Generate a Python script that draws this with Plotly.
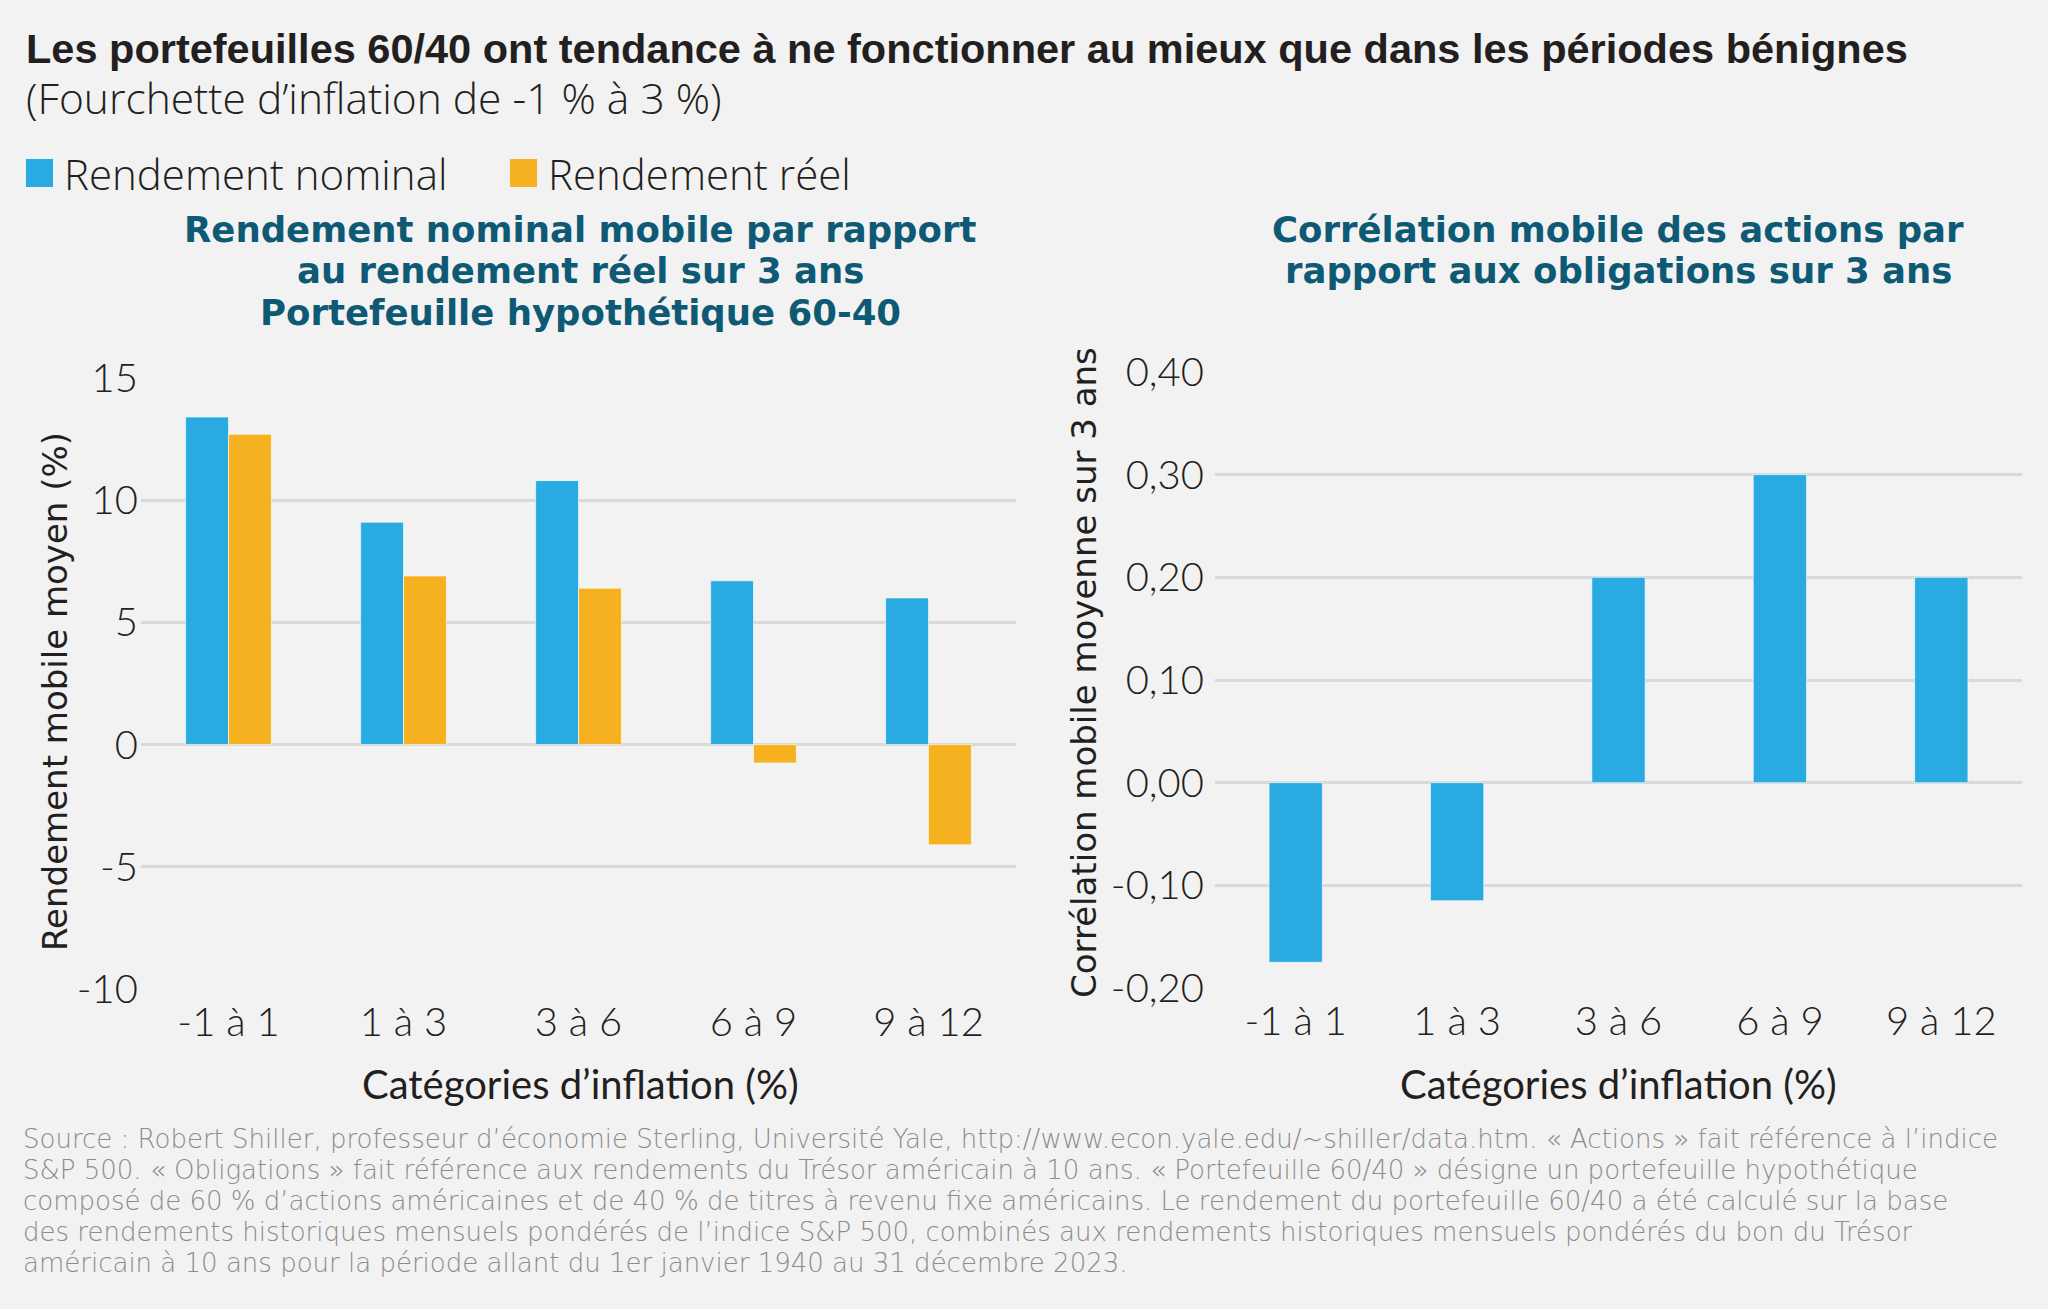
import plotly.graph_objects as go

# ---------------- data ----------------
categories = ["-1 à 1", "1 à 3", "3 à 6", "6 à 9", "9 à 12"]
nominal_return = [13.4, 9.1, 10.8, 6.7, 6.0]
real_return = [12.7, 6.9, 6.4, -0.75, -4.1]
stock_bond_corr = [-0.175, -0.115, 0.20, 0.30, 0.20]

left_tickvals = [15, 10, 5, 0, -5, -10]
left_ticktext = ["15", "10", "5", "0", "-5", "-10"]
right_tickvals = [0.40, 0.30, 0.20, 0.10, 0.00, -0.10, -0.20]
right_ticktext = ["0,40", "0,30", "0,20", "0,10", "0,00", "-0,10", "-0,20"]

series_names = ["Rendement nominal", "Rendement réel"]

title_text = "Les portefeuilles 60/40 ont tendance à ne fonctionner au mieux que dans les périodes bénignes"
subtitle_text = "(Fourchette d’inflation de -1 % à 3 %)"
left_title_lines = ["Rendement nominal mobile par rapport",
                    "au rendement réel sur 3 ans",
                    "Portefeuille hypothétique 60-40"]
right_title_lines = ["Corrélation mobile des actions par",
                     "rapport aux obligations sur 3 ans"]
x_title = "Catégories d’inflation (%)"
left_y_title = "Rendement mobile moyen (%)"
right_y_title = "Corrélation mobile moyenne sur 3 ans"
footnote_lines = [
    "Source : Robert Shiller, professeur d’économie Sterling, Université Yale, http://www.econ.yale.edu/~shiller/data.htm. « Actions » fait référence à l’indice",
    "S&amp;P 500. « Obligations » fait référence aux rendements du Trésor américain à 10 ans. « Portefeuille 60/40 » désigne un portefeuille hypothétique",
    "composé de 60 % d’actions américaines et de 40 % de titres à revenu fixe américains. Le rendement du portefeuille 60/40 a été calculé sur la base",
    "des rendements historiques mensuels pondérés de l’indice S&amp;P 500, combinés aux rendements historiques mensuels pondérés du bon du Trésor",
    "américain à 10 ans pour la période allant du 1er janvier 1940 au 31 décembre 2023.",
]

# ---------------- style ----------------
W, H = 2048, 1309
BLUE = "#29ABE2"
ORANGE = "#F5B120"
TEAL = "#0E5A75"
DARK = "#231F20"
GRID = "#D9D9D9"
BG = "#F2F2F2"
GREY = "#8C8C8C"
TICK_FONT = "Lato"
HEAD_FONT = "Liberation Sans"
LIGHT_FONT = "Open Sans"


def px_x(x):
    return x / W


def px_y(y):
    return 1 - y / H


fig = go.Figure()
bar_line = dict(color="rgba(255,255,255,0.6)", width=1)
fig.add_trace(go.Bar(x=categories, y=nominal_return, name=series_names[0],
                     marker=dict(color=BLUE, line=bar_line), xaxis="x", yaxis="y",
                     showlegend=False))
fig.add_trace(go.Bar(x=categories, y=real_return, name=series_names[1],
                     marker=dict(color=ORANGE, line=bar_line), xaxis="x", yaxis="y",
                     showlegend=False))
fig.add_trace(go.Bar(x=categories, y=stock_bond_corr, name="Corrélation",
                     marker=dict(color=BLUE, line=bar_line), xaxis="x2", yaxis="y2",
                     width=0.33, showlegend=False))

tick_font = dict(family=TICK_FONT, size=40, color=DARK, weight=300)
common_axis = dict(automargin=False, showline=False, ticks="", tickfont=tick_font,
                   fixedrange=True)

fig.update_layout(
    width=W, height=H, autosize=False,
    margin=dict(l=0, r=0, t=0, b=0, pad=0, autoexpand=False),
    paper_bgcolor=BG, plot_bgcolor=BG,
    showlegend=False,
    barmode="group", bargap=0.51, bargroupgap=0,
    xaxis=dict(domain=[px_x(141), px_x(1016)], anchor="y", showgrid=False,
               ticklabelstandoff=6, **common_axis),
    yaxis=dict(domain=[px_y(989), px_y(378)], anchor="x", range=[-10, 15],
               tickvals=left_tickvals, ticktext=left_ticktext,
               showgrid=True, gridcolor=GRID, gridwidth=3, zeroline=False,
               ticklabelstandoff=2, **common_axis),
    xaxis2=dict(domain=[px_x(1215), px_x(2022)], anchor="y2", showgrid=False,
                ticklabelstandoff=6, **common_axis),
    yaxis2=dict(domain=[px_y(988), px_y(372)], anchor="x2", range=[-0.2, 0.4],
                tickvals=right_tickvals, ticktext=right_ticktext,
                showgrid=True, gridcolor=GRID, gridwidth=3, zeroline=False,
                ticklabelstandoff=10, **common_axis),
)

ann = []
ann.append(dict(text=title_text, x=px_x(24), y=px_y(48), xanchor="left", yanchor="middle",
                font=dict(family=HEAD_FONT, size=41.5, color=DARK, weight=700)))
ann.append(dict(text=subtitle_text, x=px_x(24), y=px_y(98), xanchor="left", yanchor="middle",
                font=dict(family=LIGHT_FONT, size=42.5, color=DARK, weight=300)))
# legend (drawn as swatches + labels)
legend_items = [(series_names[0], BLUE, 26), (series_names[1], ORANGE, 510)]
shapes = []
for name, col, x0 in legend_items:
    shapes.append(dict(type="rect", xref="paper", yref="paper",
                       x0=px_x(x0), x1=px_x(x0 + 27), y0=px_y(187), y1=px_y(159),
                       fillcolor=col, line=dict(width=0)))
    ann.append(dict(text=name, x=px_x(x0 + 36), y=px_y(173), xanchor="left", yanchor="middle",
                    font=dict(family=LIGHT_FONT, size=42, color=DARK, weight=300)))
# chart titles
for i, line in enumerate(left_title_lines):
    ann.append(dict(text=line, x=px_x(580), y=px_y(229 + 41.5 * i), xanchor="center",
                    yanchor="middle", borderpad=0, height=41,
                    font=dict(family="DejaVu Sans", size=35.5, color=TEAL, weight=700)))
for i, line in enumerate(right_title_lines):
    ann.append(dict(text=line, x=px_x(1618), y=px_y(229 + 41.5 * i), xanchor="center",
                    yanchor="middle", borderpad=0, height=41,
                    font=dict(family="DejaVu Sans", size=35.5, color=TEAL, weight=700)))
# axis titles
ann.append(dict(text=x_title, x=px_x(580), y=px_y(1084), xanchor="center", yanchor="middle",
                font=dict(family=TICK_FONT, size=40, color=DARK, weight=400)))
ann.append(dict(text=x_title, x=px_x(1618), y=px_y(1084), xanchor="center", yanchor="middle",
                font=dict(family=TICK_FONT, size=40, color=DARK, weight=400)))
ann.append(dict(text=left_y_title, x=px_x(55), y=px_y(692), xanchor="center", yanchor="middle",
                textangle=-90, font=dict(family="DejaVu Sans", size=34, color=DARK)))
ann.append(dict(text=right_y_title, x=px_x(1084), y=px_y(673), xanchor="center", yanchor="middle",
                textangle=-90, font=dict(family="DejaVu Sans", size=34, color=DARK)))
# footnote
for i, line in enumerate(footnote_lines):
    ann.append(dict(text=line, x=px_x(22), y=px_y(1139 + 31 * i), xanchor="left", yanchor="middle",
                    borderpad=0, height=30,
                    font=dict(family="DejaVu Sans", size=26, color=GREY, weight=300)))

for a in ann:
    a.update(xref="paper", yref="paper", showarrow=False)

fig.update_layout(annotations=ann, shapes=shapes)
fig.write_html("out.html", config={"displayModeBar": False},
               post_script="document.body.style.margin='0';")
